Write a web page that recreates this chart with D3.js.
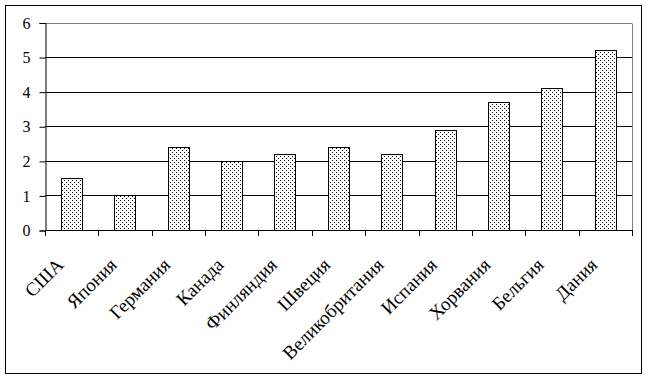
<!DOCTYPE html>
<html lang="ru">
<head>
    <meta charset="UTF-8">
    <title>D3 vis</title>
    <script src="https://d3js.org/d3.v7.min.js"></script>
    <style>
        body { margin: 0; background: #fff; }
        text { font-family: "Liberation Serif", "Times New Roman", serif; fill: #000; }
    </style>
</head>
<body>
<script>

const countries = ["США", "Япония", "Германия", "Канада", "Финляндия", "Швеция",
                   "Великобритания", "Испания", "Хорвания", "Бельгия", "Дания"];
const values = [1.5, 1.0, 2.4, 2.0, 2.2, 2.4, 2.2, 2.9, 3.7, 4.1, 5.2];
const yTicks = [0, 1, 2, 3, 4, 5, 6];

const w = 648;
const h = 380;
const plotLeft = 45, plotRight = 632, plotTop = 22.5, plotBottom = 230;

const svg = d3.select("body")
              .append("svg")
              .attr("width", w)
              .attr("height", h);

// dotted fill for the bars
const pat = svg.append("defs").append("pattern")
    .attr("id", "dots")
    .attr("patternUnits", "userSpaceOnUse")
    .attr("width", 4).attr("height", 4);
pat.append("rect").attr("width", 4).attr("height", 4).attr("fill", "#fff");
pat.append("rect").attr("x", 0).attr("y", 0).attr("width", 1).attr("height", 1).attr("fill", "#000");
pat.append("rect").attr("x", 2).attr("y", 2).attr("width", 1).attr("height", 1).attr("fill", "#000");

// outer frame
svg.append("rect")
   .attr("x", 5.5).attr("y", 5.5)
   .attr("width", 636).attr("height", 368)
   .attr("fill", "none")
   .attr("stroke", "#000");

const xScale = d3.scaleBand()
                 .domain(countries)
                 .range([plotLeft, plotRight]);

const yScale = d3.scaleLinear()
                 .domain([0, 6])
                 .range([plotBottom, plotTop]);

// gridlines
svg.append("g")
   .selectAll("line")
   .data(yTicks.slice(1))
   .enter()
   .append("line")
   .attr("x1", plotLeft).attr("x2", plotRight)
   .attr("y1", d => Math.round(yScale(d)) + 0.5)
   .attr("y2", d => Math.round(yScale(d)) + 0.5)
   .attr("stroke", d => d === 6 ? "#808080" : "#000");

// right border of plot area
svg.append("line")
   .attr("x1", plotRight + 0.5).attr("x2", plotRight + 0.5)
   .attr("y1", Math.round(yScale(6)) + 0.5).attr("y2", plotBottom)
   .attr("stroke", "#808080");

// bars
const bw = xScale.bandwidth() * 0.4;
svg.append("g")
   .selectAll("rect")
   .data(values)
   .enter()
   .append("rect")
   .attr("x", (d, i) => Math.round(xScale(countries[i]) + (xScale.bandwidth() - bw) / 2) + 0.5)
   .attr("y", d => Math.round(yScale(d)) + 0.5)
   .attr("width", Math.round(bw))
   .attr("height", d => Math.round(yScale(0)) - Math.round(yScale(d)))
   .attr("fill", "url(#dots)")
   .attr("stroke", "#000");

// y axis
const yAxis = d3.axisLeft(yScale)
                .tickValues(yTicks)
                .tickSize(6)
                .tickPadding(9)
                .tickFormat(d3.format("d"));

const gy = svg.append("g")
   .attr("transform", "translate(" + (plotLeft + 0.5) + ",0.5)")
   .call(yAxis);
gy.select(".domain").attr("stroke", "#000");
gy.selectAll("text").attr("font-size", 16).attr("font-family", "Liberation Serif");

// x axis with ticks at band boundaries
svg.append("line")
   .attr("x1", plotLeft).attr("x2", plotRight + 1)
   .attr("y1", plotBottom + 0.5).attr("y2", plotBottom + 0.5)
   .attr("stroke", "#000");

const bounds = countries.map(c => xScale(c)).concat([plotRight]);
svg.append("g")
   .selectAll("line")
   .data(bounds)
   .enter()
   .append("line")
   .attr("x1", d => Math.round(d) + 0.5).attr("x2", d => Math.round(d) + 0.5)
   .attr("y1", plotBottom).attr("y2", plotBottom + 6)
   .attr("stroke", "#000");

// rotated category labels
svg.append("g")
   .selectAll("text")
   .data(countries)
   .enter()
   .append("text")
   .text(d => d)
   .attr("text-anchor", "end")
   .attr("font-size", 19)
   .attr("transform", d => "translate(" + (xScale(d) + xScale.bandwidth() / 2 - 7) + "," + 266 + ") rotate(-45)");

</script>
</body>
</html>
